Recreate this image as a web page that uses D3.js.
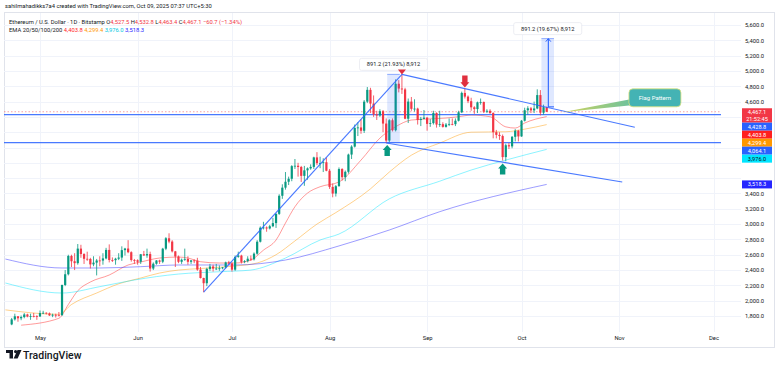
<!DOCTYPE html>
<html lang="en">
<head>
<meta charset="UTF-8">
<title>Ethereum / U.S. Dollar - 1D</title>
<script src="https://d3js.org/d3.v7.min.js"></script>
<style>
  body { margin: 0; background: #fff; }
  svg text { font-family: Roboto, "Noto Sans", sans-serif; fill: #131722; }
</style>
</head>
<body>
<svg id="chart" width="780" height="370"></svg>
<script>
// daily candles: date, open, high, low, close
const candles = [
  ["04-22",1690,1775,1680,1756],["04-23",1756,1830,1740,1796],["04-24",1796,1800,1725,1770],["04-25",1770,1806,1745,1786],
  ["04-26",1786,1838,1770,1820],["04-27",1820,1830,1783,1792],["04-28",1792,1830,1750,1800],["04-29",1800,1840,1782,1799],
  ["04-30",1799,1810,1750,1793],["05-01",1793,1872,1790,1838],["05-02",1838,1868,1825,1842],["05-03",1842,1848,1820,1834],
  ["05-04",1834,1846,1800,1808],["05-05",1808,1830,1785,1816],["05-06",1816,1830,1780,1815],["05-07",1815,1852,1795,1810],
  ["05-08",1810,2210,1805,2205],["05-09",2205,2400,2190,2345],["05-10",2345,2600,2330,2584],["05-11",2584,2600,2440,2515],
  ["05-12",2515,2620,2400,2490],["05-13",2490,2740,2470,2680],["05-14",2680,2730,2560,2609],["05-15",2609,2620,2480,2547],
  ["05-16",2547,2640,2520,2545],["05-17",2545,2560,2420,2474],["05-18",2474,2580,2450,2497],["05-19",2497,2545,2330,2525],
  ["05-20",2525,2580,2450,2524],["05-21",2524,2620,2470,2552],["05-22",2552,2690,2540,2663],["05-23",2663,2735,2500,2531],
  ["05-24",2531,2565,2505,2529],["05-25",2529,2560,2470,2548],["05-26",2548,2620,2530,2563],["05-27",2563,2710,2520,2660],
  ["05-28",2660,2690,2590,2681],["05-29",2681,2790,2620,2633],["05-30",2633,2645,2510,2531],["05-31",2531,2545,2480,2528],
  ["06-01",2528,2540,2470,2508],["06-02",2508,2610,2480,2606],["06-03",2606,2650,2585,2591],["06-04",2591,2680,2560,2609],
  ["06-05",2609,2640,2380,2420],["06-06",2420,2500,2400,2483],["06-07",2483,2530,2470,2525],["06-08",2525,2535,2480,2509],
  ["06-09",2509,2690,2490,2679],["06-10",2679,2830,2660,2815],["06-11",2815,2880,2750,2772],["06-12",2772,2790,2630,2644],
  ["06-13",2644,2650,2440,2577],["06-14",2577,2590,2490,2508],["06-15",2508,2550,2480,2535],["06-16",2535,2680,2520,2545],
  ["06-17",2545,2580,2470,2508],["06-18",2508,2530,2480,2526],["06-19",2526,2540,2490,2523],["06-20",2523,2560,2390,2406],
  ["06-21",2406,2440,2290,2296],["06-22",2296,2300,2110,2228],["06-23",2228,2430,2190,2415],["06-24",2415,2480,2390,2446],
  ["06-25",2446,2470,2380,2419],["06-26",2419,2480,2400,2420],["06-27",2420,2460,2390,2423],["06-28",2423,2440,2410,2435],
  ["06-29",2435,2510,2420,2500],["06-30",2500,2520,2470,2486],["07-01",2486,2500,2380,2405],["07-02",2405,2590,2390,2572],
  ["07-03",2572,2640,2560,2589],["07-04",2589,2600,2485,2507],["07-05",2507,2530,2490,2517],["07-06",2517,2580,2500,2548],
  ["07-07",2548,2590,2520,2540],["07-08",2540,2630,2525,2614],["07-09",2614,2790,2600,2770],["07-10",2770,2970,2760,2953],
  ["07-11",2953,3030,2930,2956],["07-12",2956,2970,2900,2943],["07-13",2943,2990,2930,2972],["07-14",2972,3080,2960,3013],
  ["07-15",3013,3140,2950,3134],["07-16",3134,3390,3120,3370],["07-17",3370,3520,3330,3476],["07-18",3476,3680,3450,3553],
  ["07-19",3553,3620,3510,3592],["07-20",3592,3770,3560,3757],["07-21",3757,3850,3720,3762],["07-22",3762,3800,3620,3746],
  ["07-23",3746,3760,3550,3630],["07-24",3630,3760,3500,3702],["07-25",3702,3740,3580,3728],["07-26",3728,3780,3710,3747],
  ["07-27",3747,3880,3720,3871],["07-28",3871,3940,3770,3796],["07-29",3796,3880,3730,3797],["07-30",3797,3860,3680,3808],
  ["07-31",3808,3870,3690,3697],["08-01",3697,3720,3460,3486],["08-02",3486,3530,3350,3399],["08-03",3399,3510,3360,3495],
  ["08-04",3495,3740,3490,3719],["08-05",3719,3730,3570,3613],["08-06",3613,3700,3560,3683],["08-07",3683,3920,3660,3908],
  ["08-08",3908,4030,3850,4012],["08-09",4012,4300,4000,4256],["08-10",4256,4330,4150,4262],["08-11",4262,4370,4180,4219],
  ["08-12",4219,4620,4190,4599],["08-13",4599,4790,4580,4753],["08-14",4753,4780,4450,4574],["08-15",4574,4680,4400,4433],
  ["08-16",4433,4480,4360,4418],["08-17",4418,4500,4400,4474],["08-18",4474,4490,4200,4313],["08-19",4313,4380,4060,4091],
  ["08-20",4091,4370,4070,4356],["08-21",4356,4380,4210,4226],["08-22",4226,4890,4210,4833],["08-23",4833,4880,4720,4770],
  ["08-24",4770,4955,4700,4759],["08-25",4759,4780,4370,4376],["08-26",4376,4640,4320,4600],["08-27",4600,4660,4480,4505],
  ["08-28",4505,4630,4470,4508],["08-29",4508,4520,4300,4359],["08-30",4359,4400,4280,4374],["08-31",4374,4490,4370,4390],
  ["09-01",4390,4400,4220,4309],["09-02",4309,4370,4270,4319],["09-03",4319,4480,4300,4450],["09-04",4450,4460,4260,4300],
  ["09-05",4300,4480,4270,4305],["09-06",4305,4330,4260,4270],["09-07",4270,4320,4260,4300],["09-08",4300,4380,4280,4308],
  ["09-09",4308,4380,4290,4305],["09-10",4305,4380,4280,4350],["09-11",4350,4480,4340,4460],["09-12",4460,4730,4450,4713],
  ["09-13",4713,4770,4640,4665],["09-14",4665,4680,4580,4605],["09-15",4605,4650,4480,4525],["09-16",4525,4540,4440,4502],
  ["09-17",4502,4600,4450,4590],["09-18",4590,4640,4560,4595],["09-19",4595,4600,4450,4468],["09-20",4468,4500,4450,4480],
  ["09-21",4480,4500,4440,4450],["09-22",4450,4460,4120,4200],["09-23",4200,4230,4120,4165],["09-24",4165,4200,4100,4150],
  ["09-25",4150,4170,3830,3875],["09-26",3875,4050,3820,4030],["09-27",4030,4060,3980,4015],["09-28",4015,4150,3990,4140],
  ["09-29",4140,4240,4080,4220],["09-30",4220,4230,4080,4145],["10-01",4145,4360,4140,4350],["10-02",4350,4520,4340,4487],
  ["10-03",4487,4540,4430,4512],["10-04",4512,4530,4450,4485],["10-05",4485,4600,4450,4510],["10-06",4510,4760,4500,4685],
  ["10-07",4685,4750,4420,4455],["10-08",4455,4560,4430,4527.5],["10-09",4527.5,4532.8,4463.4,4467.1]
];

// EMA readings (date, value)
const ema20 = [["04-25",1680],["05-07",1770],["05-10",1950],["05-13",2130],["05-17",2244],["05-23",2335],["05-29",2466],
  ["06-02",2505],["06-08",2557],["06-14",2570],["06-17",2557],["06-21",2509],["06-27",2492],["07-02",2492],["07-07",2530],
  ["07-11",2660],["07-15",2792],["07-18",3014],["07-21",3227],["07-25",3405],["07-29",3488],["08-04",3550],["08-11",3836],
  ["08-17",4123],["08-22",4272],["08-27",4359],["09-01",4372],["09-07",4385],["09-11",4402],["09-15",4424],["09-21",4402],
  ["09-26",4270],["09-29",4254],["10-02",4320],["10-09",4403.8]];
const ema50 = [["04-20",1880],["05-07",1822],["05-11",1950],["05-19",2100],["05-26",2220],["06-02",2296],["06-08",2361],
  ["06-14",2400],["06-21",2420],["07-02",2453],["07-09",2492],["07-15",2600],["07-21",2780],["07-28",3000],["08-03",3150],
  ["08-14",3460],["08-20",3680],["08-27",3900],["09-05",4058],["09-15",4200],["09-26",4206],["10-02",4240],["10-09",4299.4]];
const ema100 = [["04-20",2231],["05-08",2100],["05-20",2183],["05-31",2270],["06-14",2348],["06-27",2378],["07-07",2400],
  ["07-18",2557],["07-29",2792],["08-04",2870],["08-20",3330],["09-05",3560],["09-15",3706],["09-26",3836],["10-09",3976]];
const ema200 = [["04-20",2544],["05-08",2427],["05-20",2427],["06-02",2444],["06-14",2466],["07-02",2466],["07-18",2531],
  ["08-04",2715],["08-20",2923],["09-05",3162],["10-09",3518.3]];

const priceTicks = d3.range(1800, 5601, 200);
const monthTicks = ["05-01","06-01","07-01","08-01","09-01","10-01","11-01","12-01"];
const levels = [4428.8, 4064.1];
const lastPrice = 4467.1;

const emaColors = ["#ff1f1f", "#ff9800", "#00e5ff", "#2626ff"];
const tags = [
  { v: 4467.1, text: "4,467.1", sub: "21:52:45", bg: "#f23645", fg: "#fff" },
  { v: 4428.8, text: "4,428.8", bg: "#2962ff", fg: "#fff" },
  { v: 4403.8, text: "4,403.8", bg: "#ff1f1f", fg: "#fff" },
  { v: 4299.4, text: "4,299.4", bg: "#ff9800", fg: "#fff" },
  { v: 4064.1, text: "4,064.1", bg: "#2962ff", fg: "#fff" },
  { v: 3976.0, text: "3,976.0", bg: "#00e5ff", fg: "#131722" },
  { v: 3518.3, text: "3,518.3", bg: "#2626ff", fg: "#fff" }
];

const parse = s => d3.timeParse("%Y-%m-%d")("2025-" + s);
const rows = candles.map(d => ({ date: parse(d[0]), o: d[1], h: d[2], l: d[3], c: d[4] }));

const L = 4, R = 721, T = 13, B = 332;
const x = d3.scaleTime().domain([parse("05-01"), parse("12-01")]).range([40, 713.5]);
const y = d3.scaleLinear().domain([1800, 5600]).range([316, 25]);

const svg = d3.select("#chart");
const defs = svg.append("defs");
defs.append("clipPath").attr("id", "plot").append("rect")
  .attr("x", L).attr("y", T).attr("width", R - L).attr("height", B - T);
const grad = defs.append("linearGradient").attr("id", "tail").attr("x1", "0%").attr("x2", "100%");
grad.append("stop").attr("offset", "0%").attr("stop-color", "#d4d45a");
grad.append("stop").attr("offset", "100%").attr("stop-color", "#6cc29e");

// frame
svg.append("rect").attr("x", 4.5).attr("y", 12.5).attr("width", 770).attr("height", 335)
  .attr("fill", "none").attr("stroke", "#e0e3eb");

// grid
svg.append("g").selectAll("line").data(priceTicks).join("line")
  .attr("x1", L).attr("x2", 741)
  .attr("y1", d => Math.round(y(d)) + 0.5).attr("y2", d => Math.round(y(d)) + 0.5)
  .attr("stroke", "#f0f3fa");
svg.append("g").selectAll("line").data(monthTicks).join("line")
  .attr("x1", d => Math.round(x(parse(d))) + 0.5).attr("x2", d => Math.round(x(parse(d))) + 0.5)
  .attr("y1", T).attr("y2", B)
  .attr("stroke", "#f0f3fa");

const plot = svg.append("g").attr("clip-path", "url(#plot)");

// EMAs
const line = d3.line().x(d => x(parse(d[0]))).y(d => y(d[1])).curve(d3.curveMonotoneX);
[ema20, ema50, ema100, ema200].forEach((s, i) => {
  plot.append("path").datum(s).attr("d", line)
    .attr("fill", "none").attr("stroke", emaColors[i])
    .attr("stroke-opacity", 0.45).attr("stroke-width", 1);
});

// last price dotted line
plot.append("line").attr("x1", L).attr("x2", R)
  .attr("y1", y(lastPrice)).attr("y2", y(lastPrice))
  .attr("stroke", "#f23645").attr("stroke-opacity", 0.6)
  .attr("stroke-dasharray", "1.5,2").attr("stroke-width", 0.8);

// horizontal levels
plot.selectAll("line.level").data(levels).join("line").attr("class", "level")
  .attr("x1", L).attr("x2", R)
  .attr("y1", d => y(d)).attr("y2", d => y(d))
  .attr("stroke", "#2962ff").attr("stroke-width", 1.3).attr("stroke-opacity", 0.85);

// candles
const up = "#089981", down = "#f23645";
const bw = 2.2;
const cg = plot.append("g");
cg.selectAll("line").data(rows).join("line")
  .attr("x1", d => x(d.date)).attr("x2", d => x(d.date))
  .attr("y1", d => y(d.h)).attr("y2", d => y(d.l))
  .attr("stroke", d => d.c >= d.o ? up : down).attr("stroke-width", 0.8);
cg.selectAll("rect").data(rows).join("rect")
  .attr("x", d => x(d.date) - bw / 2).attr("width", bw)
  .attr("y", d => y(Math.max(d.o, d.c)))
  .attr("height", d => Math.max(0.8, Math.abs(y(d.o) - y(d.c))))
  .attr("fill", d => d.c >= d.o ? up : down);

// trend lines
const trend = [
  [["06-22", 2111], ["08-24", 4955]],
  [["08-24", 4955], ["11-06", 4265]],
  [["08-19", 4060], ["11-02", 3550]]
];
plot.selectAll("line.trend").data(trend).join("line").attr("class", "trend")
  .attr("x1", d => x(parse(d[0][0]))).attr("y1", d => y(d[0][1]))
  .attr("x2", d => x(parse(d[1][0]))).attr("y2", d => y(d[1][1]))
  .attr("stroke", "#2962ff").attr("stroke-width", 1.1).attr("stroke-opacity", 0.85);

// measure boxes
const measures = [
  { from: "08-19", to: "08-23", base: 4063.9, top: 4955.1, label: "891.2 (21.93%) 8,912" },
  { from: "10-07", to: "10-11", base: 4530.7, top: 5421.9, label: "891.2 (19.67%) 8,912" }
];
measures.forEach((m, i) => {
  const x0 = x(parse(m.from)) + 1, x1 = x(parse(m.to)) + 1;
  const g = svg.append("g");
  g.append("rect").attr("x", x0).attr("y", y(m.top)).attr("width", x1 - x0)
    .attr("height", y(m.base) - y(m.top)).attr("fill", "#2962ff").attr("fill-opacity", 0.15);
  g.append("line").attr("x1", x0).attr("x2", x1).attr("y1", y(m.top)).attr("y2", y(m.top))
    .attr("stroke", "#2962ff").attr("stroke-opacity", 0.5);
  if (i === 1) {
    const xm = x0 + (x1 - x0) * 0.55;
    g.append("line").attr("x1", xm).attr("x2", xm).attr("y1", y(m.base)).attr("y2", y(m.top))
      .attr("stroke", "#2962ff").attr("stroke-width", 1.1);
    g.append("line").attr("x1", xm).attr("x2", x1).attr("y1", y(m.base)).attr("y2", y(m.base))
      .attr("stroke", "#2962ff").attr("stroke-width", 1.1);
    g.append("path").attr("d", `M${xm - 2.5},${y(m.top) + 3}L${xm},${y(m.top)}L${xm + 2.5},${y(m.top) + 3}`)
      .attr("fill", "none").attr("stroke", "#2962ff").attr("stroke-width", 1);
  }
  const cx = (x0 + x1) / 2;
  const lab = g.append("g").attr("transform", `translate(${cx},${y(m.top) - 10})`);
  lab.append("rect").attr("x", -34).attr("y", -6).attr("width", 68).attr("height", 12).attr("rx", 2)
    .attr("fill", "#fff").attr("stroke", "#e0e3eb").attr("stroke-width", 0.6);
  lab.append("text").attr("text-anchor", "middle").attr("dy", "0.35em")
    .attr("font-size", 5.7).text(m.label);
});

// signal arrows
const downArrow = (g, cx, tipY, w, h) =>
  g.append("path").attr("d", `M${cx - w * 0.3},${tipY - h}H${cx + w * 0.3}V${tipY - h * 0.45}H${cx + w / 2}L${cx},${tipY}L${cx - w / 2},${tipY - h * 0.45}H${cx - w * 0.3}Z`);
const upArrow = (g, cx, tipY, w, h) =>
  g.append("path").attr("d", `M${cx - w * 0.3},${tipY + h}H${cx + w * 0.3}V${tipY + h * 0.45}H${cx + w / 2}L${cx},${tipY}L${cx - w / 2},${tipY + h * 0.45}H${cx - w * 0.3}Z`);
const ag = svg.append("g");
ag.append("path").attr("d", `M${x(parse("08-24")) - 4},${y(4955) - 5}H${x(parse("08-24")) + 4}L${x(parse("08-24"))},${y(4955)}Z`)
  .attr("fill", "#e0303f");
downArrow(ag, x(parse("09-13")), y(4770) - 1, 9, 12).attr("fill", "#e0303f");
upArrow(ag, x(parse("08-19")) + 1, y(4060) + 2, 9, 11).attr("fill", "#089981");
upArrow(ag, x(parse("09-25")), y(3830) + 3, 9, 11).attr("fill", "#089981");

// flag pattern callout
const ax = x(parse("10-14")), ay = y(4460);
const cgp = svg.append("g");
cgp.append("path").attr("d", `M${ax},${ay}L${ax + 68},${ay - 13}L${ax + 69},${ay - 7}Z`).attr("fill", "url(#tail)");
cgp.append("rect").attr("x", ax + 66.5).attr("y", ay - 23.5).attr("width", 52).attr("height", 18).attr("rx", 4)
  .attr("fill", "#44b3b4").attr("stroke", "#dfe37a").attr("stroke-width", 0.8);
cgp.append("text").attr("x", ax + 92.5).attr("y", ay - 14.5).attr("dy", "0.35em").attr("text-anchor", "middle")
  .attr("font-size", 6).style("fill", "#fff").text("Flag Pattern");

// price axis
const tagH = 8;
let prev = -Infinity;
tags.forEach((t, i) => {
  const h = t.sub ? 14.4 : tagH;
  const top0 = t.sub ? y(t.v) - 3.5 : y(t.v) - h / 2;
  t.top = Math.max(top0, prev);
  t.h = h;
  prev = t.top + h;
});
const covered = v => tags.some(t => y(v) > t.top - 3 && y(v) < t.top + t.h + 3);
const yAxis = d3.axisRight(y).tickValues(priceTicks.filter(v => !covered(v)))
  .tickSize(0).tickPadding(0).tickFormat(d3.format(",.1f"));
const ya = svg.append("g").attr("transform", "translate(745,0)").call(yAxis);
ya.select(".domain").remove();
ya.selectAll("text").attr("font-size", 5.8).attr("font-family", "Roboto, 'Noto Sans', sans-serif").style("fill", "#131722");

const tg = svg.append("g");
tags.forEach(t => {
  tg.append("rect").attr("x", 742).attr("y", t.top).attr("width", 30).attr("height", t.h).attr("fill", t.bg);
  tg.append("text").attr("x", 757).attr("y", t.top + 4).attr("dy", "0.35em").attr("text-anchor", "middle")
    .attr("font-size", 5.6).style("fill", t.fg).text(t.text);
  if (t.sub) tg.append("text").attr("x", 757).attr("y", t.top + 11).attr("dy", "0.35em").attr("text-anchor", "middle")
    .attr("font-size", 5.6).style("fill", t.fg).text(t.sub);
});

// time axis
const xAxis = d3.axisBottom(x).tickValues(monthTicks.map(parse)).tickSize(0).tickPadding(0)
  .tickFormat(d3.timeFormat("%b"));
const xa = svg.append("g").attr("transform", "translate(0,336)").call(xAxis);
xa.select(".domain").remove();
xa.selectAll("text").attr("font-size", 5.8).attr("font-family", "Roboto, 'Noto Sans', sans-serif").style("fill", "#131722");

// header
svg.append("text").attr("x", 5).attr("y", 8).attr("font-size", 5.8)
  .text("sahilmahadikks7a4 created with TradingView.com, Oct 09, 2025 07:37 UTC+5:30");
const h1 = svg.append("text").attr("x", 9).attr("y", 24).attr("font-size", 5.8);
h1.append("tspan").text("Ethereum / U.S. Dollar · 1D · Bitstamp ");
[["O", "4,527.5"], ["H", "4,532.8"], ["L", "4,463.4"], ["C", "4,467.1"]].forEach(p => {
  h1.append("tspan").text(" " + p[0]);
  h1.append("tspan").style("fill", "#f23645").text(p[1]);
});
h1.append("tspan").style("fill", "#f23645").text("  −60.7 (−1.34%)");
const h2 = svg.append("text").attr("x", 9).attr("y", 31.5).attr("font-size", 5.8);
h2.append("tspan").text("EMA 20/50/100/200 ");
["4,403.8", "4,299.4", "3,976.0", "3,518.3"].forEach((v, i) => {
  h2.append("tspan").style("fill", ["#ff1f1f", "#ff9800", "#00c8e0", "#2626ff"][i]).text(" " + v);
});

// logo
const lg = svg.append("g").attr("fill", "#131722");
lg.append("rect").attr("x", 6).attr("y", 350).attr("width", 7).attr("height", 3);
lg.append("rect").attr("x", 9.5).attr("y", 350).attr("width", 3.5).attr("height", 8.5);
lg.append("circle").attr("cx", 15.6).attr("cy", 351.6).attr("r", 1.6);
lg.append("path").attr("d", "M17.5,350H21.5L17.6,358.5H13.6Z");
svg.append("text").attr("x", 23).attr("y", 358.5).attr("font-size", 10.5).attr("font-weight", 500)
  .text("TradingView");
</script>
</body>
</html>
